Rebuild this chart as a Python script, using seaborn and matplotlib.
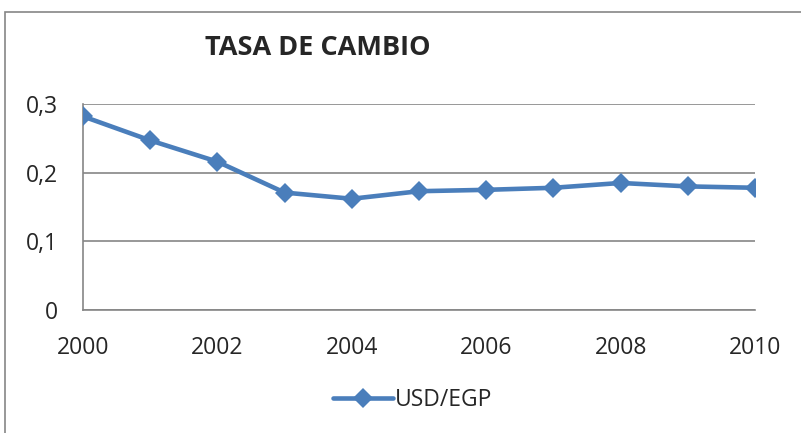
import matplotlib
matplotlib.use("Agg")
import matplotlib.pyplot as plt
import seaborn as sns
import pandas as pd
from matplotlib.patches import Rectangle
from matplotlib.ticker import FuncFormatter, MultipleLocator

# ----------------------------
# Data
# ----------------------------

years = [2000, 2001, 2002, 2003, 2004, 2005, 2006, 2007, 2008, 2009, 2010]
usd_egp = [0.282, 0.247, 0.216, 0.171, 0.162, 0.173, 0.175, 0.178, 0.185, 0.180, 0.178]
series_name = "USD/EGP"
title = "TASA DE CAMBIO"

df = pd.DataFrame({"year": years, "rate": usd_egp, "serie": series_name})

# ----------------------------
# Figure
# ----------------------------

sns.set_style("white")
plt.rcParams["font.family"] = ["Open Sans", "DejaVu Sans"]

fig = plt.figure(figsize=(8.01, 4.33), dpi=100)
ax = fig.add_axes([83 / 801, 1 - 310 / 433, (755 - 83) / 801, (310 - 104) / 433])

blue = "#4A7EBB"
grid_c = "#868686"

sns.lineplot(
    data=df,
    x="year",
    y="rate",
    hue="serie",
    palette=[blue],
    marker="D",
    markersize=10,
    markeredgewidth=0,
    linewidth=3.3,
    ax=ax,
    legend=False,
    zorder=3,
)

ax.set_xlim(2000, 2010)
ax.set_ylim(0, 0.3)
ax.xaxis.set_major_locator(MultipleLocator(2))
ax.yaxis.set_major_locator(MultipleLocator(0.1))
ax.yaxis.set_major_formatter(
    FuncFormatter(lambda v, p: "0" if abs(v) < 1e-9 else f"{v:.1f}".replace(".", ","))
)
ax.set_xlabel("")
ax.set_ylabel("")

ax.grid(axis="y", color=grid_c, linewidth=1.2)
ax.grid(axis="x", visible=False)
for side in ["top", "right"]:
    ax.spines[side].set_visible(False)
for side in ["left", "bottom"]:
    ax.spines[side].set_color(grid_c)
    ax.spines[side].set_linewidth(1.2)
ax.tick_params(axis="both", which="major", direction="out", length=6,
               width=1.2, color=grid_c, labelsize=16.5)
ax.tick_params(axis="x", pad=13)
ax.tick_params(axis="y", pad=12)

# ----------------------------
# Title, legend, frame
# ----------------------------

fig.text(318 / 801, 1 - 48 / 433, title, ha="center", va="center",
         fontsize=19.5, fontweight="bold")

handle = plt.Line2D([], [], color=blue, marker="D", markersize=10,
                    markeredgewidth=0, linewidth=3.3)
fig.legend([handle], [series_name], loc="center",
           bbox_to_anchor=(413 / 801, 1 - 400 / 433), frameon=False,
           fontsize=16.5, handlelength=2.6, handletextpad=0.1)

fig.patches.append(Rectangle((5 / 801, -0.2), 1.0, 1.2 - 12 / 433,
                             transform=fig.transFigure, fill=False,
                             edgecolor=grid_c, linewidth=1.2))

fig.savefig("out.png", dpi=100)
plt.close()
